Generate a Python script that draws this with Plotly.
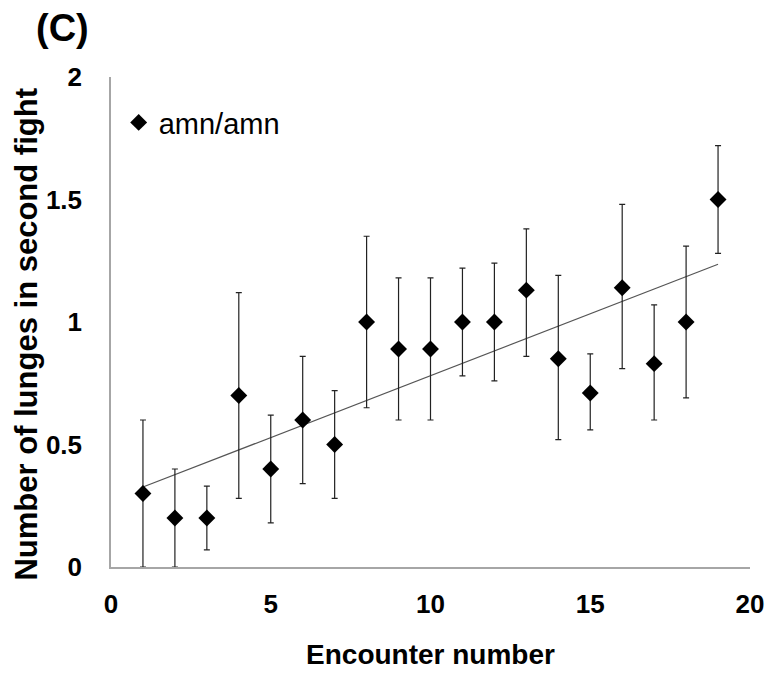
import numpy as np
import plotly.graph_objects as go

encounter = [1, 2, 3, 4, 5, 6, 7, 8, 9, 10, 11, 12, 13, 14, 15, 16, 17, 18, 19]
lunges_mean = [0.30, 0.20, 0.20, 0.70, 0.40, 0.60, 0.50, 1.00, 0.89, 0.89,
               1.00, 1.00, 1.13, 0.85, 0.71, 1.14, 0.83, 1.00, 1.50]
err_upper = [0.60, 0.40, 0.33, 1.12, 0.62, 0.86, 0.72, 1.35, 1.18, 1.18,
             1.22, 1.24, 1.38, 1.19, 0.87, 1.48, 1.07, 1.31, 1.72]
err_lower = [0.00, 0.00, 0.07, 0.28, 0.18, 0.34, 0.28, 0.65, 0.60, 0.60,
             0.78, 0.76, 0.86, 0.52, 0.56, 0.81, 0.60, 0.69, 1.28]
x_ticks = [0, 5, 10, 15, 20]
y_ticks = [0, 0.5, 1, 1.5, 2]
y_tick_labels = ["0", "0.5", "1", "1.5", "2"]
series_name = "amn/amn"
x_title = "Encounter number"
y_title = "Number of lunges in second fight"
panel_label = "(C)"

x = np.array(encounter, dtype=float)
y = np.array(lunges_mean)
plus = np.array(err_upper) - y
minus = y - np.array(err_lower)

slope, intercept = np.polyfit(x, y, 1)
trend_x = [x.min(), x.max()]
trend_y = [intercept + slope * v for v in trend_x]

FONT = "Liberation Sans, Arial, sans-serif"

fig = go.Figure()
fig.add_trace(go.Scatter(
    x=trend_x, y=trend_y, mode="lines",
    line=dict(color="#555555", width=1.2),
    showlegend=False, hoverinfo="skip",
))
fig.add_trace(go.Scatter(
    x=x, y=y, mode="markers", name=series_name,
    marker=dict(symbol="diamond", size=13, color="black"),
    error_y=dict(type="data", symmetric=False, array=plus, arrayminus=minus,
                 color="#222222", thickness=1.2, width=3),
))

fig.update_layout(
    width=768, height=675,
    margin=dict(l=111, r=18, t=77, b=108, autoexpand=False),
    paper_bgcolor="white", plot_bgcolor="white",
    font=dict(family=FONT, color="black"),
    showlegend=True,
    legend=dict(x=0.012, y=0.907, xanchor="left", yanchor="middle",
                bgcolor="rgba(0,0,0,0)", font=dict(size=29, family=FONT),
                itemwidth=30, tracegroupgap=0),
    annotations=[
        dict(text="<b>" + panel_label + "</b>", xref="paper", yref="paper",
             x=-0.12, y=1.1, xanchor="left", yanchor="middle",
             showarrow=False, font=dict(size=38, family=FONT, color="black")),
        dict(text="<b>" + y_title + "</b>", xref="paper", yref="paper",
             x=-0.1317, y=0.476, xanchor="center", yanchor="middle",
             textangle=-90, showarrow=False,
             font=dict(size=31, family=FONT, color="black")),
    ],
)
fig.update_xaxes(
    range=[0, 20], tickvals=x_ticks, ticktext=[str(t) for t in x_ticks],
    showline=True, linecolor="#a6a6a6", linewidth=1.5, mirror=False,
    showgrid=False, zeroline=False, ticks="",
    tickfont=dict(size=26, family=FONT, weight="bold"),
    ticklabelstandoff=13,
    title=dict(text="<b>" + x_title + "</b>", font=dict(size=28, family=FONT),
               standoff=26),
)
fig.update_yaxes(
    range=[0, 2], tickvals=y_ticks, ticktext=y_tick_labels,
    showline=True, linecolor="#a6a6a6", linewidth=1.5, mirror=False,
    showgrid=False, zeroline=False, ticks="",
    tickfont=dict(size=26, family=FONT, weight="bold"),
    ticklabelstandoff=22,
)

fig.write_html("out.html")
